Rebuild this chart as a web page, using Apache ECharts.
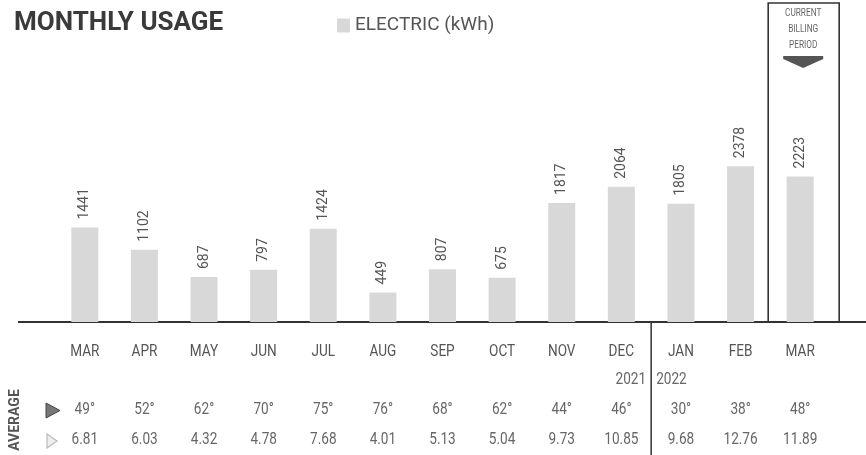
<!DOCTYPE html>
<html>
<head>
<meta charset="utf-8">
<script src="https://cdn.jsdelivr.net/npm/echarts@6/dist/echarts.min.js"></script>
<style>
html,body{margin:0;padding:0;background:#fff;}
#main{width:866px;height:455px;}
</style>
</head>
<body>
<div id="main"></div>
<script>
const months = ['MAR','APR','MAY','JUN','JUL','AUG','SEP','OCT','NOV','DEC','JAN','FEB','MAR'];
const usage = [1441,1102,687,797,1424,449,807,675,1817,2064,1805,2378,2223];
const avgTemp = ['49°','52°','62°','70°','75°','76°','68°','62°','44°','46°','30°','38°','48°'];
const avgDaily = ['6.81','6.03','4.32','4.78','7.68','4.01','5.13','5.04','9.73','10.85','9.68','12.76','11.89'];
const yearLabels = ['2021','2022'];
const yearBreakIndex = 10;
const currentIndex = 12;

const FONT = 'Roboto,"Noto Sans",sans-serif';
const chart = echarts.init(document.getElementById('main'));

chart.setOption({
  animation: false,
  title: {
    text: 'MONTHLY USAGE', left: 9, top: 5,
    textStyle: {fontFamily: FONT, fontSize: 26, fontWeight: 'bold', color: '#3a3a3a'}
  },
  legend: {
    left: 332, top: 11, itemWidth: 13, itemHeight: 14, itemGap: 10,
    icon: 'rect',
    textStyle: {fontFamily: FONT, fontSize: 19, color: '#555'},
    data: ['ELECTRIC (kWh)']
  },
  grid: {left: 55, right: 36, top: 60, bottom: 133},
  xAxis: {
    type: 'category', data: months,
    axisLine: {show: false}, axisTick: {show: false},
    axisLabel: {show: false}
  },
  yAxis: {type: 'value', min: 0, max: 4000, show: false, splitLine: {show: false}},
  series: [{
    name: 'ELECTRIC (kWh)', type: 'bar', data: usage, barWidth: 27,
    itemStyle: {color: '#d8d8d8'},
    label: {
      show: true, position: 'top', rotate: 90, align: 'left', verticalAlign: 'middle',
      distance: 8, fontFamily: FONT, fontSize: 14, color: '#555'
    }
  }]
});

function px(i){ return chart.convertToPixel({xAxisIndex:0}, i); }
const y0 = chart.convertToPixel({yAxisIndex:0}, 0);
const g = [];
function txt(t, x, y, size, fill, align, sx){
  return {type:'text', x:x, y:y, scaleX: sx || 0.85,
    style:{text:t, x:0, y:0, align:align||'center', verticalAlign:'middle', font:size+'px '+FONT, fill:fill||'#666'}};
}
// baseline
g.push({type:'line', shape:{x1:18, y1:y0, x2:866, y2:y0}, style:{stroke:'#333', lineWidth:2}});
// current billing box
const cx = px(currentIndex) + 3;
g.push({type:'rect', shape:{x:cx-35, y:3, width:71, height:y0-3}, style:{fill:'none', stroke:'#333', lineWidth:1.6}});
['CURRENT','BILLING','PERIOD'].forEach((t,k)=>{
  g.push(txt(t, cx, 13+k*16, 11, '#666', 'center', 0.75));
});
g.push({type:'polygon', shape:{points:[[cx-20,56],[cx+20,56],[cx+20,59],[cx,68],[cx-20,59]]}, style:{fill:'#555'}});
// year separator
const sx = (px(yearBreakIndex-1)+px(yearBreakIndex))/2;
g.push({type:'line', shape:{x1:sx, y1:y0, x2:sx, y2:455}, style:{stroke:'#333', lineWidth:1.5}});
g.push(txt(yearLabels[0], sx-5, 380, 16, '#666', 'right'));
g.push(txt(yearLabels[1], sx+5, 380, 16, '#666', 'left'));
// rows
months.forEach((m,i)=>{
  const x = px(i);
  g.push(txt(m, x, 352, 16, '#555'));
  g.push(txt(avgTemp[i], x, 410, 16, '#666'));
  g.push(txt(avgDaily[i], x, 440, 16, '#666'));
});
// AVERAGE label
g.push({type:'text', rotation:Math.PI/2, x:15, y:420,
  style:{text:'AVERAGE', x:0, y:0, align:'center', verticalAlign:'middle', font:'bold 14px '+FONT, fill:'#555'}});
// row icons
g.push({type:'polygon', shape:{points:[[46,403],[60,410.5],[46,418]]}, style:{fill:'#777', stroke:'#444', lineWidth:1}});
g.push({type:'polygon', shape:{points:[[47,434],[57,441],[47,448]]}, style:{fill:'#eee', stroke:'#bbb', lineWidth:1.2}});
chart.setOption({graphic: g});
</script>
</body>
</html>
